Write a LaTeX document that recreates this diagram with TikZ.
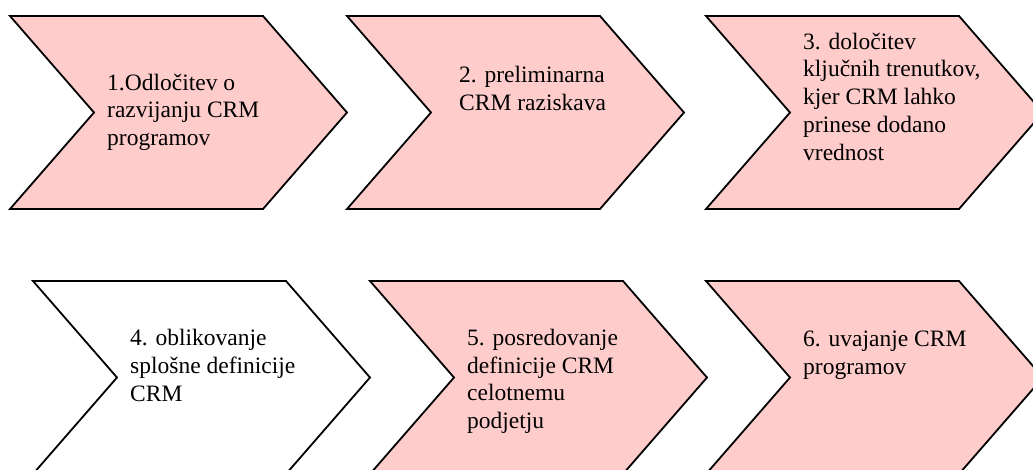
\documentclass[tikz,border=0pt]{standalone}
\usepackage{fontspec}
\setmainfont{Liberation Serif}
\tikzset{
  stepshape/.style={draw=black, line width=1.8pt, line join=miter},
  pinkstep/.style={stepshape, fill=stepfill},
  whitestep/.style={stepshape, fill=white},
  % labels are placed by the baseline of their last line
  steptext/.style={anchor=base west, align=left, inner sep=0pt, text=black,
    font=\fontsize{23.5}{27.7}\selectfont},
}
\definecolor{stepfill}{HTML}{FFCCCC}
% chevron: top-left corner (#2,#3), style #1
\newcommand\stepchev[3]{%
  \path[#1] (#2,#3) -- ++(253,0) -- ++(84,96.5) -- ++(-84,96.5) -- ++(-253,0)
    -- ++(84,-96.5) -- cycle;}
\begin{document}
\begin{tikzpicture}[x=1pt,y=-1pt]
\useasboundingbox (0,0) rectangle (1033,469);
\clip (0,0) rectangle (1033,469);
% upper row
\stepchev{pinkstep}{10}{16}
\stepchev{pinkstep}{347}{16}
\stepchev{pinkstep}{706}{16}
% lower row
\stepchev{whitestep}{33}{281}
\stepchev{pinkstep}{370}{281}
\stepchev{pinkstep}{706}{281}
% labels
\node[steptext] (t1) at (107,145.5) {1.Odločitev o\\razvijanju CRM\\programov};
\node[steptext] (t2) at (459,110.2) {2. preliminarna\\CRM raziskava};
\node[steptext] (t3) at (803,160) {3. določitev\\ključnih trenutkov,\\kjer CRM lahko\\prinese dodano\\vrednost};
\node[steptext] (t4) at (130,401) {4. oblikovanje\\splošne definicije\\CRM};
\node[steptext] (t5) at (467,428.5) {5. posredovanje\\definicije CRM\\celotnemu\\podjetju};
\node[steptext] (t6) at (803,374) {6. uvajanje CRM\\programov};
\end{tikzpicture}
\end{document}
